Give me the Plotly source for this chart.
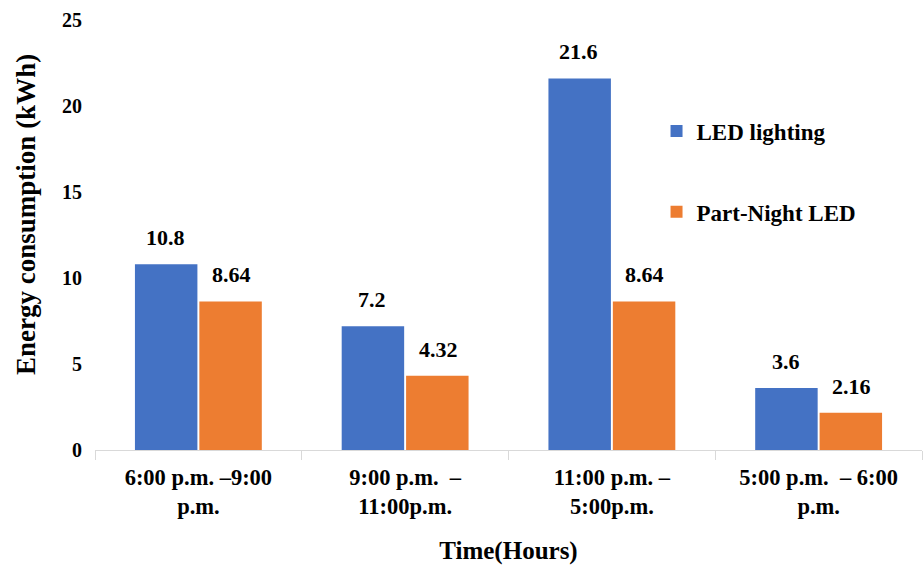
import plotly.graph_objects as go

# Time slots and energy use per lighting scheme
periods = [
    ["6:00 p.m. –9:00", "p.m."],
    ["9:00 p.m.  –", "11:00p.m."],
    ["11:00 p.m. –", "5:00p.m."],
    ["5:00 p.m.  – 6:00", "p.m."],
]
led_lighting = [10.8, 7.2, 21.6, 3.6]
part_night_led = [8.64, 4.32, 8.64, 2.16]
y_ticks = [0, 5, 10, 15, 20, 25]

series = [
    ("LED lighting", led_lighting, "#4472C4"),
    ("Part-Night LED", part_night_led, "#ED7D31"),
]

FONT = "Liberation Serif"


def bold(s):
    return f"<b>{s}</b>"


categories = ["<br>".join(bold(part) for part in p) for p in periods]

fig = go.Figure()
for name, vals, color in series:
    fig.add_trace(go.Bar(
        x=categories, y=vals, name=bold(name), marker_color=color,
        marker_line_width=0, legendgroup=name,
    ))

# value labels above each bar
offsets = [-33, 33]
annotations = []
for (name, vals, color), dx in zip(series, offsets):
    for c, v in zip(categories, vals):
        annotations.append(dict(
            x=c, y=v, xref="x", yref="y", text=bold(f"{v:g}"), showarrow=False,
            xshift=dx, yshift=12, yanchor="bottom",
            font=dict(family=FONT, size=22, color="black"),
        ))

# vertical axis title
annotations.append(dict(
    x=-0.0833, y=0.547, xref="paper", yref="paper", text=bold("Energy consumption (kWh)"),
    textangle=-90, showarrow=False, xanchor="center", yanchor="middle",
    font=dict(family=FONT, size=27, color="black"),
))

fig.update_layout(
    width=923, height=567,
    margin=dict(l=95, r=1, t=20, b=117),
    plot_bgcolor="white", paper_bgcolor="white",
    font=dict(family=FONT, size=20, color="black"),
    barmode="group", bargap=0.377, bargroupgap=0.03,
    showlegend=True,
    legend=dict(
        x=0.679, y=0.792, xanchor="left", yanchor="top",
        traceorder="grouped", tracegroupgap=48,
        font=dict(family=FONT, size=23, color="black"),
        bgcolor="rgba(0,0,0,0)",
    ),
    annotations=annotations,
    xaxis=dict(
        showline=True, linecolor="#d9d9d9", linewidth=1,
        ticks="outside", tickson="boundaries", ticklen=9, tickcolor="#d9d9d9",
        ticklabelstandoff=7,
        tickfont=dict(family=FONT, size=22.5, color="black"),
        title=dict(text=bold("Time(Hours)"), standoff=23,
                   font=dict(family=FONT, size=25, color="black")),
        showgrid=False,
    ),
    yaxis=dict(
        range=[0, 25], tickvals=y_ticks, ticktext=[bold(t) for t in y_ticks],
        showgrid=False, zeroline=False, showline=False,
        ticks="", ticklabelstandoff=12,
        tickfont=dict(family=FONT, size=20, color="black"),
    ),
)

fig.write_html("out.html")
